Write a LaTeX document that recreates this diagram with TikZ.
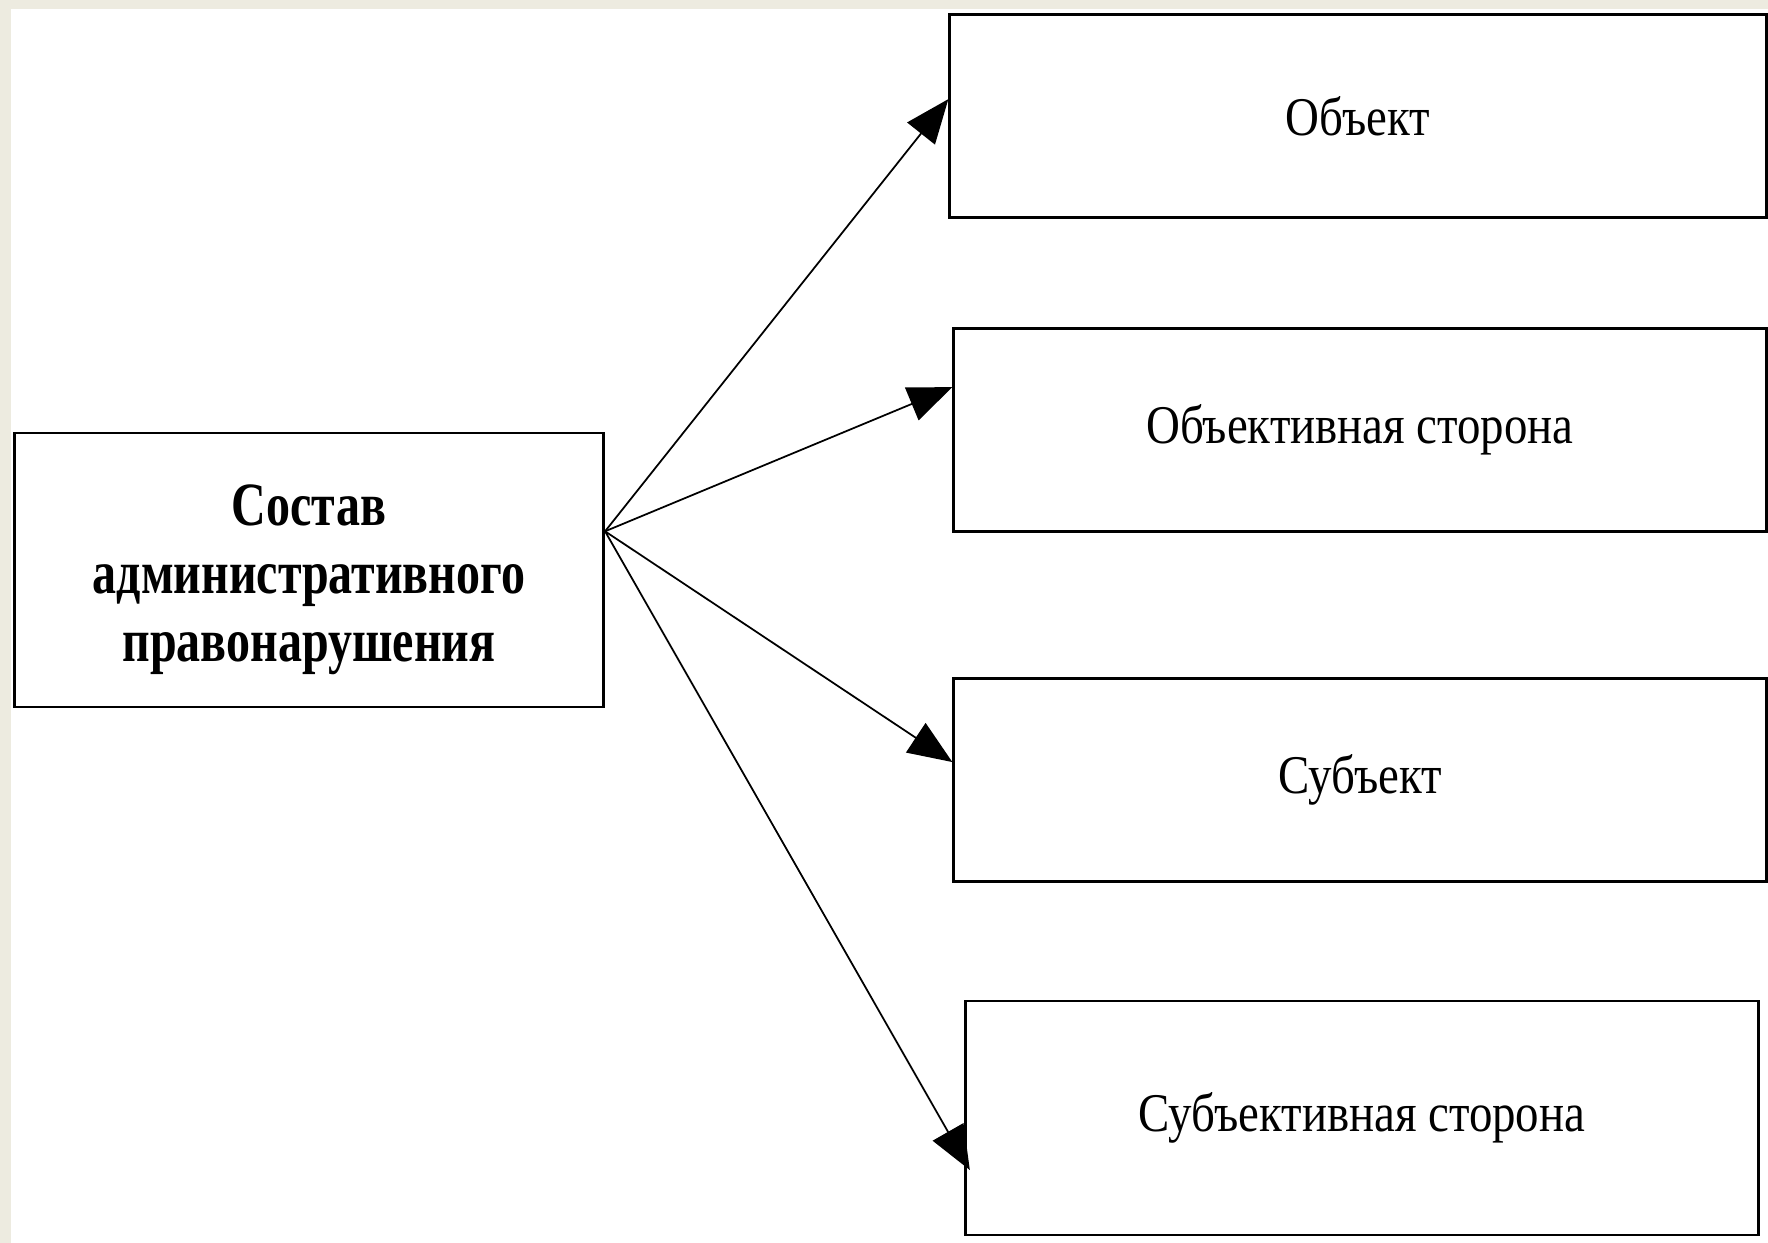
\documentclass[tikz,border=0pt]{standalone}
\usepackage{fontspec}
\setmainfont{Liberation Serif}
\newfontfamily\narrowserif[FakeStretch=0.86]{Liberation Serif}
\newfontfamily\narrowbold[FakeStretch=0.78]{Liberation Serif Bold}
\usetikzlibrary{arrows.meta}
\definecolor{bgbeige}{RGB}{237,235,224}

\begin{document}
\begin{tikzpicture}[x=0.01cm, y=-0.01cm]
\tikzset{b/.style={rectangle, draw=black, line width=0.8pt, fill=white, align=center,
  font=\narrowserif\fontsize{15.5}{19}\selectfont},
f/.style={-{Triangle[length=12.5pt, width=10pt]}, line width=0.5pt}};

\useasboundingbox (0,0) rectangle (1768,1243);
\fill[bgbeige] (0,0) rectangle (1768,1243);
\fill[white] (11,9) rectangle (1768,1243);

\node[b, minimum width=5.89cm, minimum height=2.74cm,
  font=\narrowbold\fontsize{17.5}{19.3}\selectfont] (sostav) at (309,570)
  {\rule{0pt}{17pt}Состав\\административного\\правонарушения};
\node[b, minimum width=8.16cm, minimum height=2.03cm] (obj) at (1358,116) {Объект};
\node[b, minimum width=8.12cm, minimum height=2.03cm] (objside) at (1360,430) {Объективная сторона};
\node[b, minimum width=8.12cm, minimum height=2.03cm] (subj) at (1360,780) {Субъект};
\node[b, minimum width=7.93cm, minimum height=2.34cm] (subjside) at (1362,1118) {Субъективная сторона};

\coordinate (fork) at ([yshift=11pt]sostav.east);

\draw[f] (fork) -- ([yshift=4.8pt]obj.west);
\draw[f] (fork) -- ([yshift=12.2pt]objside.west);
\draw[f] (fork) -- ([yshift=5.1pt]subj.west);
\draw[f] (fork) -- ([xshift=1.7pt, yshift=-14.8pt]subjside.west);

\end{tikzpicture}
\end{document}
